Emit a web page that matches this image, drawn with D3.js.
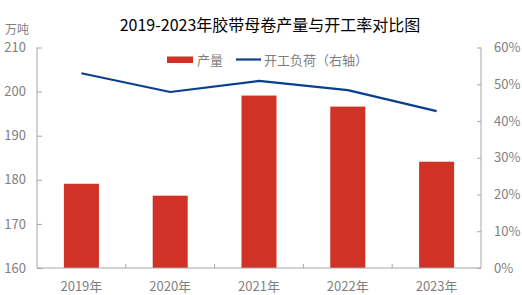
<!DOCTYPE html>
<html><head><meta charset="utf-8">
<script src="https://cdn.jsdelivr.net/npm/d3@7"></script>
<style>
body{margin:0;background:#fff;}
text{font-family:"Noto Sans CJK SC","Noto Sans",sans-serif;}
</style></head>
<body><svg id="c" width="522" height="295"></svg>
<script>
const categories = ["2019年","2020年","2021年","2022年","2023年"];
const output = [179.1, 176.4, 199.1, 196.6, 184.1];
const utilization = [0.530, 0.479, 0.509, 0.484, 0.427];
const leftTicks = [160,170,180,190,200,210];
const rightTicks = [0,0.1,0.2,0.3,0.4,0.5,0.6];
const title = "2019-2023年胶带母卷产量与开工率对比图";
const leftUnit = "万吨";
const seriesNames = ["产量","开工负荷（右轴）"];

const svg = d3.select("#c");
const m = {l:37, r:481, t:47.5, b:268};
const axisCol = "#a6a6a6", textCol = "#7f7f7f";
const barCol = "#d03226", lineCol = "#0a3f8c";

const xb = d3.scaleBand().domain(categories).range([m.l, m.r]);
const yL = d3.scaleLinear().domain([160,210]).range([m.b, m.t]);
const yR = d3.scaleLinear().domain([0,0.6]).range([m.b, m.t]);

svg.append("text").attr("x",270).attr("y",31).attr("text-anchor","middle")
  .attr("font-size",16).attr("fill","#000").text(title);

// bars
svg.selectAll("rect.bar").data(output).enter().append("rect")
  .attr("x",(d,i)=>xb(categories[i]) + xb.bandwidth()/2 - 17.5)
  .attr("width",35)
  .attr("y",d=>yL(d)).attr("height",d=>m.b-yL(d)).attr("fill",barCol);

// left axis
const gL = svg.append("g").attr("transform",`translate(${m.l},0)`)
  .call(d3.axisLeft(yL).tickValues(leftTicks).tickSize(-5).tickPadding(11).tickFormat(d3.format("d")));
gL.selectAll(".domain,.tick line").attr("stroke",axisCol);
gL.select(".domain").attr("d",`M0,${m.t}V${m.b}`);
gL.selectAll("text").attr("fill",textCol).attr("font-size",13).attr("font-family","'Noto Sans CJK SC',sans-serif");

// right axis
const gR = svg.append("g").attr("transform",`translate(${m.r},0)`)
  .call(d3.axisRight(yR).tickValues(rightTicks).tickSize(-4).tickPadding(13).tickFormat(d3.format(".0%")));
gR.selectAll(".domain,.tick line").attr("stroke",axisCol);
gR.select(".domain").attr("d",`M0,${m.t}V${m.b}`);
gR.selectAll("text").attr("fill",textCol).attr("font-size",13).attr("font-family","'Noto Sans CJK SC',sans-serif");

// bottom axis
const gB = svg.append("g").attr("transform",`translate(0,${m.b})`)
  .call(d3.axisBottom(xb).tickSize(0).tickPadding(14));
gB.select(".domain").attr("stroke",axisCol).attr("d",`M${m.l},0H${m.r}`);
gB.selectAll("text").attr("fill",textCol).attr("font-size",13).attr("font-family","'Noto Sans CJK SC',sans-serif");
categories.slice(1).forEach(c=>{
  gB.append("line").attr("x1",xb(c)).attr("x2",xb(c)).attr("y1",0).attr("y2",-4).attr("stroke",axisCol);
});

// line
const line = d3.line().x((d,i)=>xb(categories[i])+xb.bandwidth()/2).y(d=>yR(d));
svg.append("path").datum(utilization).attr("d",line).attr("fill","none")
  .attr("stroke",lineCol).attr("stroke-width",2.2).attr("stroke-linejoin","round");

// unit
svg.append("text").attr("x",5).attr("y",33.5).attr("font-size",12).attr("fill",textCol).text(leftUnit);

// legend
const lg = svg.append("g");
lg.append("rect").attr("x",167).attr("y",56.5).attr("width",26).attr("height",6.5).attr("fill",barCol);
lg.append("text").attr("x",197).attr("y",64.5).attr("font-size",13).attr("fill",textCol).text(seriesNames[0]);
lg.append("line").attr("x1",236).attr("x2",261).attr("y1",59.5).attr("y2",59.5).attr("stroke",lineCol).attr("stroke-width",2.2);
lg.append("text").attr("x",264).attr("y",64.5).attr("font-size",13).attr("fill",textCol).text(seriesNames[1]);
</script></body></html>
